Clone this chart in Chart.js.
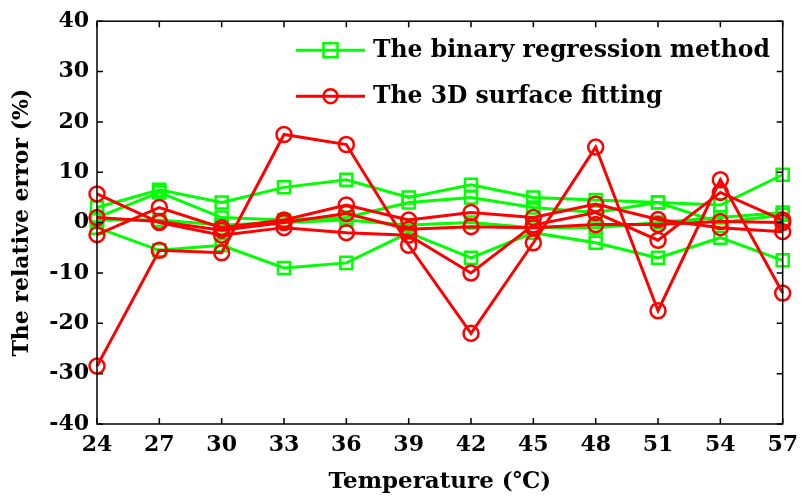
<!DOCTYPE html>
<html>
<head>
<meta charset="utf-8">
<script src="https://cdn.jsdelivr.net/npm/chart.js@4/dist/chart.umd.min.js"></script>
<style>
  html, body { margin: 0; padding: 0; background: #fff; }
  #wrap { width: 806px; height: 499px; }
</style>
</head>
<body>
<div id="wrap"><canvas id="canvas-1"></canvas></div>
<script>
(function () {
    'use strict';

    // temperatures on the x axis
    var temps = ['24', '27', '30', '33', '36', '39', '42', '45', '48', '51', '54', '57'];
    var yTicks = [-40, -30, -20, -10, 0, 10, 20, 30, 40];

    // binary regression method (green)
    var binary1 = [3, 6.5, 4, 7, 8.5, 5, 7.5, 5, 4.5, 4, 3.5, 9.5];
    var binary2 = [1, 6, 1, 0.5, 1, 4, 5, 3, 2, 4, 0, 1.5];
    var binary3 = [-1, -5.5, -4.5, -9, -8, -2, -7, -2, -4, -7, -3, -7.5];
    var binary4 = [0.5, 0.5, -0.5, 0, 0.5, -0.5, 0, -1, -1, 0, 1, 2];

    // 3D surface fitting (red)
    var surface1 = [-28.5, -5.5, -6, 17.5, 15.5, -4.5, -22, -4, 15, -17.5, 8.5, -14];
    var surface2 = [5.7, 0, -2.5, -1, -2, -2.5, -10, -0.5, 2, -3.5, 6, 0.5];
    var surface3 = [-2.4, 3, -1, 0.5, 3.5, 0.5, 2, 1, 3.7, 0.6, -1, -1.8];
    var surface4 = [1, 0.2, -1.5, 0, 1.8, -1.3, -0.8, -1, -0.4, -0.4, 0.2, 0];

    var legendNames = ['The binary regression method', 'The 3D surface fitting'];

    var FONT = '"DejaVu Serif", "Liberation Serif", serif';
    var GREEN = '#00ff00';
    var RED = '#ff0000';

    var makeSet = function (name, values, color, style, order) {
        return {
            label: name,
            data: values,
            borderColor: color,
            backgroundColor: 'rgba(0,0,0,0)',
            borderWidth: 3,
            pointStyle: style,
            pointRadius: style === 'rect' ? 8.5 : 7.5,
            pointHoverRadius: style === 'rect' ? 8.5 : 7.5,
            pointBorderWidth: 2.5,
            pointBorderColor: color,
            pointBackgroundColor: 'rgba(0,0,0,0)',
            tension: 0,
            order: order
        };
    };

    var datasetss = [
        makeSet(legendNames[0], binary1, GREEN, 'rect', 2),
        makeSet(legendNames[0], binary2, GREEN, 'rect', 2),
        makeSet(legendNames[0], binary3, GREEN, 'rect', 2),
        makeSet(legendNames[0], binary4, GREEN, 'rect', 2),
        makeSet(legendNames[1], surface1, RED, 'circle', 1),
        makeSet(legendNames[1], surface2, RED, 'circle', 1),
        makeSet(legendNames[1], surface3, RED, 'circle', 1),
        makeSet(legendNames[1], surface4, RED, 'circle', 1)
    ];

    // box round the plot with inward tick marks, like matlab
    var boxPlugin = {
        id: 'boxTicks',
        afterDraw: function (chart) {
            var ctx = chart.ctx;
            var a = chart.chartArea;
            var xs = chart.scales.x;
            var ys = chart.scales.y;
            var len = 6;
            ctx.save();
            ctx.strokeStyle = '#000';
            ctx.lineWidth = 1.5;
            ctx.strokeRect(a.left, a.top, a.right - a.left, a.bottom - a.top);
            ctx.beginPath();
            for (var i = 0; i < temps.length; i++) {
                var px = xs.getPixelForValue(i);
                ctx.moveTo(px, a.bottom); ctx.lineTo(px, a.bottom - len);
                ctx.moveTo(px, a.top); ctx.lineTo(px, a.top + len);
            }
            for (var j = 0; j < yTicks.length; j++) {
                var py = ys.getPixelForValue(yTicks[j]);
                ctx.moveTo(a.left, py); ctx.lineTo(a.left + len, py);
                ctx.moveTo(a.right, py); ctx.lineTo(a.right - len, py);
            }
            ctx.stroke();
            ctx.restore();
        }
    };

    // legend inside the plot, top right
    var legendPlugin = {
        id: 'insideLegend',
        afterDraw: function (chart) {
            var ctx = chart.ctx;
            var a = chart.chartArea;
            var picks = [datasetss[0], datasetss[4]];
            ctx.save();
            ctx.font = 'bold 23.5px ' + FONT;
            ctx.textBaseline = 'middle';
            ctx.fillStyle = '#000';
            for (var i = 0; i < picks.length; i++) {
                var ds = picks[i];
                var y = a.top + 29 + i * 46;
                var x0 = a.left + 199;
                ctx.strokeStyle = ds.borderColor;
                ctx.lineWidth = 3;
                ctx.beginPath();
                ctx.moveTo(x0, y); ctx.lineTo(x0 + 69, y);
                ctx.stroke();
                ctx.lineWidth = 2.5;
                ctx.beginPath();
                if (ds.pointStyle === 'rect') {
                    ctx.rect(x0 + 34.5 - 7, y - 7, 14, 14);
                } else {
                    ctx.arc(x0 + 34.5, y, 7, 0, Math.PI * 2);
                }
                ctx.stroke();
                ctx.fillText(ds.label, x0 + 77, y + 1);
            }
            ctx.restore();
        }
    };

    var ctx = document.getElementById('canvas-1');
    var chart = new Chart(ctx, {
        type: 'line',
        data: {
            labels: temps,
            datasets: datasetss
        },
        options: {
            responsive: true,
            maintainAspectRatio: false,
            animation: false,
            layout: { padding: { left: 0, right: 14, top: 18, bottom: 0 } },
            plugins: {
                legend: { display: false },
                tooltip: { enabled: false }
            },
            scales: {
                x: {
                    type: 'category',
                    offset: false,
                    grid: { display: false, drawTicks: false },
                    border: { display: false },
                    ticks: {
                        color: '#000',
                        padding: 8,
                        maxRotation: 0,
                        autoSkip: false,
                        font: { family: FONT, size: 22, weight: 'bold' }
                    },
                    title: {
                        display: true,
                        text: 'Temperature (\u2103)',
                        color: '#000',
                        padding: { top: 0, bottom: 3 },
                        font: { family: FONT, size: 23, weight: 'bold' }
                    },
                    afterFit: function (scale) { scale.height = 75; }
                },
                y: {
                    min: -40,
                    max: 40,
                    grid: { display: false, drawTicks: false },
                    border: { display: false },
                    ticks: {
                        stepSize: 10,
                        color: '#000',
                        padding: 8,
                        font: { family: FONT, size: 22, weight: 'bold' }
                    },
                    title: {
                        display: true,
                        text: 'The relative error (%)',
                        color: '#000',
                        padding: { top: 9, bottom: 0 },
                        font: { family: FONT, size: 22, weight: 'bold' }
                    },
                    afterFit: function (scale) { scale.width = 97; }
                }
            }
        },
        plugins: [boxPlugin, legendPlugin]
    });
})();
</script>
</body>
</html>
